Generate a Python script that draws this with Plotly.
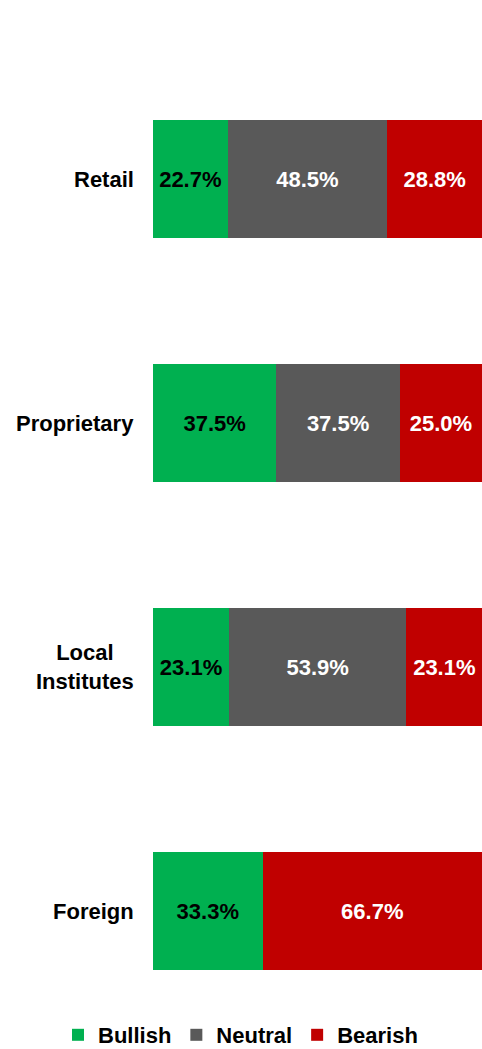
import plotly.graph_objects as go

categories = ["Retail", "Proprietary", "Local<br>Institutes", "Foreign"]
bullish = [22.7, 37.5, 23.1, 33.3]
neutral = [48.5, 37.5, 53.9, None]
bearish = [28.8, 25.0, 23.1, 66.7]

series = [
    ("Bullish", bullish, "#00B050", "black"),
    ("Neutral", neutral, "#595959", "white"),
    ("Bearish", bearish, "#C00000", "white"),
]

FONT = "Liberation Sans, Arial, sans-serif"
L, T, PW, PH = 153, 57, 329, 976

fig = go.Figure()
for name, vals, color, tcol in series:
    fig.add_trace(go.Bar(
        name=f"<b>{name}</b>", y=categories, x=vals, orientation="h",
        marker=dict(color=color, line=dict(width=0)),
        width=0.484,
        texttemplate="<b>%{x:.1f}%</b>", textposition="inside",
        insidetextanchor="middle",
        textfont=dict(color=tcol, size=22, family=FONT),
        hoverinfo="skip",
    ))

# category labels (left of bars), centred multi-line like the original
for c in categories:
    fig.add_annotation(
        xref="paper", yref="y", x=0, y=c, xanchor="right", yanchor="middle",
        xshift=-17, text=f"<b>{c}</b>", showarrow=False, align="center",
        font=dict(size=22, family=FONT, color="black"),
    )

fig.update_layout(
    barmode="stack",
    width=482, height=1049,
    margin=dict(l=L, r=482 - L - PW, t=T, b=1049 - T - PH, autoexpand=False),
    plot_bgcolor="white", paper_bgcolor="white",
    font=dict(family=FONT, size=22, color="black"),
    showlegend=True,
    legend=dict(
        orientation="h", xref="paper", x=(58 - L) / PW, xanchor="left",
        yref="paper", y=(T + PH - 1035) / PH, yanchor="middle",
        font=dict(size=22, family=FONT, color="black"),
        traceorder="normal", itemwidth=30, tracegroupgap=0,
        bgcolor="rgba(0,0,0,0)", borderwidth=0,
    ),
    uniformtext=dict(mode="show", minsize=10),
)
fig.update_xaxes(range=[0, 100], visible=False, fixedrange=True)
fig.update_yaxes(
    range=[3.5, -0.5], showgrid=False, zeroline=False, showline=False,
    showticklabels=False, ticks="", automargin=False, fixedrange=True,
)

fig.write_html(
    "out.html",
    config={"displayModeBar": False},
    post_script="document.body.style.margin='0';document.body.style.overflow='hidden';",
)
